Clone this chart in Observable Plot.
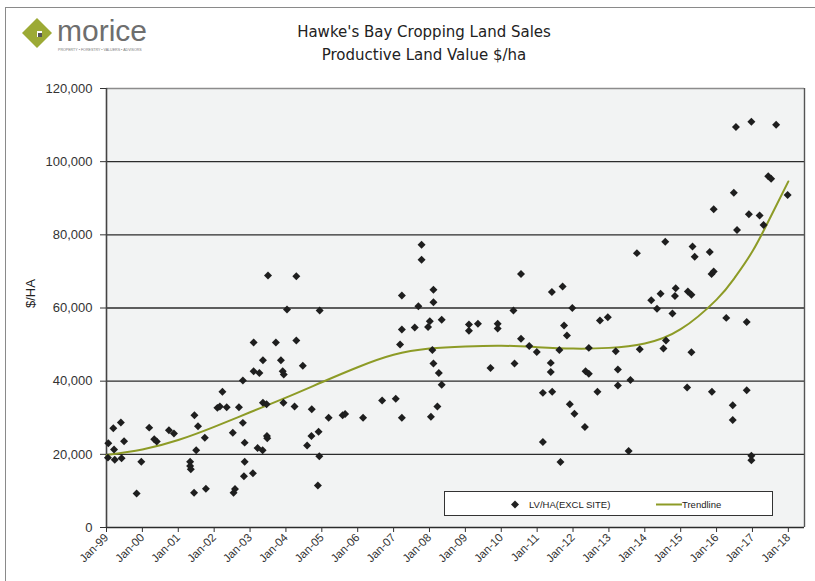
<!DOCTYPE html>
<html>
<head>
<meta charset="utf-8">
<script src="https://cdn.jsdelivr.net/npm/d3@7"></script>
<script src="https://cdn.jsdelivr.net/npm/@observablehq/plot@0.6"></script>
<style>
  html, body { margin: 0; padding: 0; background: #fff; overflow: hidden; }
  #wrap { position: relative; width: 815px; height: 581px; font-family: "Liberation Sans", Arial, sans-serif; }
  #border { position: absolute; left: 5px; top: 7px; width: 830px; height: 600px; border: 1px solid #8a8a8a; border-width: 1.5px; box-sizing: border-box; pointer-events: none; }
  #header { position: relative; height: 80px; }
  #title { position: absolute; left: 224px; width: 400px; top: 21px; text-align: center; font-family: "DejaVu Sans", sans-serif; font-size: 15px; line-height: 23px; color: #222; }
  #logo { position: absolute; left: 18px; top: 14px; }
  #legend { position: absolute; left: 444px; top: 491px; width: 329px; height: 25px; border: 1px solid #333; background: #fff; box-sizing: border-box; font-size: 9.5px; color: #222; }
  #legend svg { position: absolute; left: 0; top: 0; }
</style>
</head>
<body>
<div id="wrap">
  <div id="header">
    <svg id="logo" width="140" height="42" viewBox="0 0 140 42">
      <path d="M19 4 L34 19 L19 34 L4 19 Z" fill="#9caa35"/>
      <path d="M19 17 L24 17 L24 23 L19 23 Z" fill="#fff"/>
      <path d="M20 19 L24 19 L24 23 L20 23 Z" fill="#555"/>
      <text x="39" y="27" font-family="'Liberation Sans', Arial, sans-serif" font-size="30" fill="#6e6e6e">morice</text>
      <text x="40" y="37" font-family="'Liberation Sans', Arial, sans-serif" font-size="3.6" fill="#777">PROPERTY • FORESTRY • VALUERS • ADVISORS</text>
    </svg>
    <div id="title">Hawke's Bay Cropping Land Sales<br>Productive Land Value $/ha</div>
  </div>
  <div id="chart"></div>
  <div id="legend">
    <svg width="329" height="25">
      <path d="M70 8.5 L74 12.5 L70 16.5 L66 12.5 Z" fill="#222"/>
      <text x="84" y="16" font-family="'Liberation Sans', Arial, sans-serif" font-size="9.5" fill="#222">LV/HA(EXCL SITE)</text>
      <line x1="211" x2="237" y1="12.5" y2="12.5" stroke="#8d9b26" stroke-width="2"/>
      <text x="237" y="16" font-family="'Liberation Sans', Arial, sans-serif" font-size="9.5" fill="#222">Trendline</text>
    </svg>
  </div>
  <div id="border"></div>
</div>
<script>
// Sale points: decimal year of sale and land value ($/ha)
const saleYear = [
  1999.05, 1999.21, 1999.19, 1999.40, 1999.49, 1999.04, 1999.23, 1999.42, 1999.97, 1999.84,
  2000.19, 2000.33, 2000.40, 2000.74, 2000.88, 2001.33, 2001.33, 2001.35, 2001.44, 2001.45,
  2001.55, 2001.50, 2001.74, 2001.77, 2002.09, 2002.16, 2002.23, 2002.35, 2002.52, 2002.54,
  2002.58, 2002.69, 2002.80, 2002.80, 2002.85, 2002.85, 2002.83, 2003.08, 2003.10, 2003.10,
  2003.26, 2003.21, 2003.35, 2003.36, 2003.36, 2003.46, 2003.47, 2003.48, 2003.50, 2003.72,
  2003.86, 2003.91, 2003.94, 2003.93, 2004.03, 2004.24, 2004.29, 2004.29, 2004.47, 2004.59,
  2004.71, 2004.72, 2004.89, 2004.91, 2004.93, 2004.94, 2005.19, 2005.58, 2005.65, 2006.15,
  2006.68, 2007.06, 2007.18, 2007.23, 2007.23, 2007.23, 2007.59, 2007.69, 2007.78, 2007.78,
  2007.96, 2008.01, 2008.04, 2008.08, 2008.11, 2008.11, 2008.11, 2008.22, 2008.26, 2008.34,
  2008.34, 2009.10, 2009.10, 2009.35, 2009.70, 2009.90, 2009.90, 2010.34, 2010.37, 2010.55,
  2010.55, 2010.78, 2010.99, 2011.16, 2011.16, 2011.38, 2011.38, 2011.41, 2011.42, 2011.62,
  2011.65, 2011.71, 2011.75, 2011.83, 2011.91, 2011.98, 2012.04, 2012.33, 2012.35, 2012.44,
  2012.44, 2012.68, 2012.75, 2012.97, 2013.19, 2013.25, 2013.25, 2013.55, 2013.60, 2013.78,
  2013.86, 2014.18, 2014.34, 2014.44, 2014.52, 2014.57, 2014.59, 2014.77, 2014.84, 2014.86,
  2015.18, 2015.20, 2015.30, 2015.30, 2015.33, 2015.39, 2015.81, 2015.86, 2015.92, 2015.87,
  2015.92, 2016.27, 2016.45, 2016.45, 2016.48, 2016.54, 2016.57, 2016.84, 2016.84, 2016.90,
  2016.97, 2016.97, 2016.97, 2017.20, 2017.31, 2017.44, 2017.52, 2017.66, 2017.98
];
const saleValue = [
  23000, 21300, 27100, 28700, 23600, 19100, 18500, 18900, 18000, 9300,
  27300, 24100, 23500, 26600, 25700, 18000, 16800, 15900, 9500, 30700,
  27700, 21100, 24500, 10600, 32700, 33100, 37100, 32900, 25900, 9500,
  10500, 32900, 40200, 28600, 23200, 18000, 14000, 14800, 50600, 42700,
  42200, 21700, 21100, 45700, 34100, 33700, 25000, 24400, 68900, 50600,
  45700, 42700, 41800, 34100, 59600, 33100, 68700, 51100, 44200, 22400,
  25000, 32300, 11500, 26200, 19500, 59300, 30000, 30700, 31000, 30000,
  34700, 35200, 50000, 63400, 54100, 30000, 54700, 60500, 77300, 73200,
  54800, 56400, 30300, 48500, 65000, 61600, 44800, 33100, 42200, 56800,
  39000, 55500, 53800, 55700, 43600, 55700, 54400, 59300, 44800, 69300,
  51600, 49600, 48000, 36800, 23400, 45000, 42500, 64400, 37100, 48500,
  17900, 65900, 55200, 52500, 33700, 60000, 31100, 27500, 42700, 42000,
  49100, 37100, 56600, 57500, 48200, 43200, 38800, 20900, 40300, 75000,
  48700, 62100, 59800, 63900, 48900, 78100, 51100, 58500, 63300, 65400,
  38300, 64500, 47900, 63600, 76800, 74000, 75300, 69300, 70000, 37100,
  87000, 57300, 33400, 29400, 91500, 109500, 81300, 56200, 37500, 85600,
  110900, 19600, 18400, 85300, 82700, 96000, 95300, 110100, 90900
];
// Trendline
const trendYear = [1999.0, 2000.0, 2001.0, 2002.0, 2003.0, 2004.0, 2005.0, 2006.0, 2007.0, 2008.0,
  2009.0, 2010.0, 2011.0, 2012.0, 2013.0, 2014.0, 2015.0, 2016.0, 2016.5, 2017.0, 2017.5, 2018.0];
const trendValue = [19800, 21300, 23900, 27500, 31500, 35500, 39700, 43800, 47200, 48900,
  49500, 49700, 49300, 48900, 49100, 50300, 54200, 62300, 68200, 75500, 84800, 94600];
// Axis ticks
const tickYears = d3.range(1999, 2019);
const tickLabels = ["Jan-99","Jan-00","Jan-01","Jan-02","Jan-03","Jan-04","Jan-05","Jan-06","Jan-07","Jan-08",
  "Jan-09","Jan-10","Jan-11","Jan-12","Jan-13","Jan-14","Jan-15","Jan-16","Jan-17","Jan-18"];
const yTicks = [0, 20000, 40000, 60000, 80000, 100000, 120000];
const yTitle = "$/HA";

const sales = saleYear.map((x, i) => ({x, y: saleValue[i]}));
const trend = trendYear.map((x, i) => ({x, y: trendValue[i]}));
const xMin = 1999, xMax = 2018.45;

const chart = Plot.plot({
  width: 815,
  height: 501,
  marginLeft: 106,
  marginRight: 11,
  marginTop: 8,
  marginBottom: 54,
  style: {background: "transparent", fontFamily: "'Liberation Sans', Arial, sans-serif", fontSize: "12px", color: "#222", overflow: "visible"},
  x: {type: "linear", domain: [xMin, xMax]},
  y: {domain: [0, 120000]},
  marks: [
    Plot.frame({fill: "#f2f3f3", stroke: null}),
    Plot.ruleY(yTicks.filter(d => d < 120000), {stroke: "#2b2b2b", strokeWidth: 1.4}),
    Plot.ruleY([120000], {stroke: "#8c8c8c", strokeWidth: 1.6}),
    Plot.ruleX([xMin], {stroke: "#444", strokeWidth: 1.6}),
    Plot.ruleX([xMax], {stroke: "#555", strokeWidth: 1.4}),
    Plot.line(trend, {x: "x", y: "y", stroke: "#8d9b26", strokeWidth: 2, curve: "natural"}),
    Plot.dot(sales, {x: "x", y: "y", symbol: "diamond2", r: 3.6, fill: "#1e1e1e", stroke: null}),
    Plot.axisY({ticks: yTicks, tickFormat: d3.format(","), tickSize: 6, tickPadding: 8, label: null, fontSize: 13, color: "#333"}),
    Plot.axisX({ticks: tickYears, tickFormat: (d) => tickLabels[tickYears.indexOf(d)], tickRotate: -45, tickSize: 5, tickPadding: 3, label: null, fontSize: 11.5, color: "#333"}),
    Plot.text([yTitle], {frameAnchor: "left", dx: -76, rotate: -90, fontSize: 13, fill: "#222"})
  ]
});
document.getElementById("chart").appendChild(chart);
</script>
</body>
</html>
